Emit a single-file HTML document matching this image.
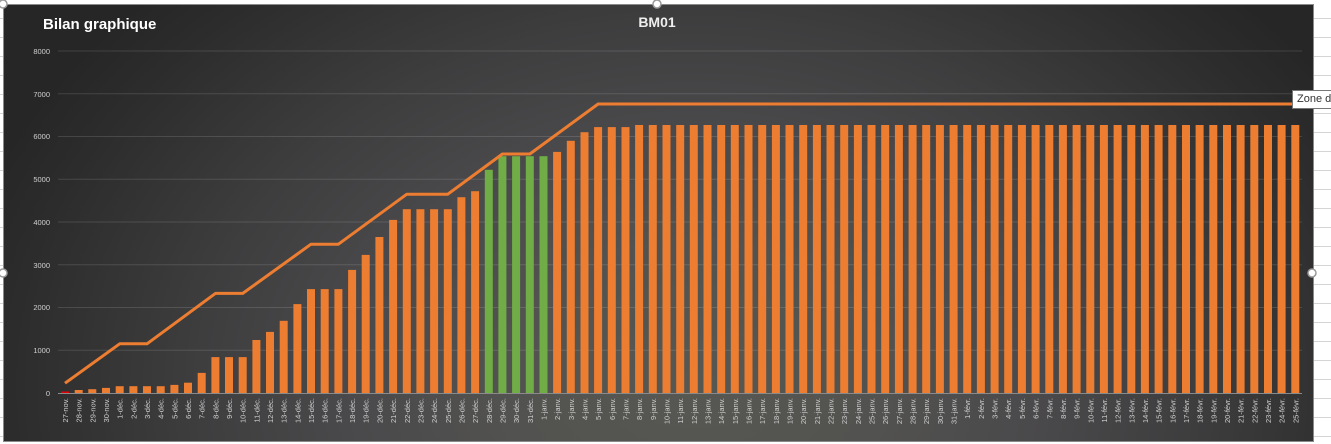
<!DOCTYPE html>
<html><head><meta charset="utf-8"><style>
body{margin:0;width:1331px;height:444px;overflow:hidden;background:#fff;position:relative;font-family:"Liberation Sans",sans-serif}
.grid{position:absolute;left:0;top:0;width:1331px;height:444px;background:repeating-linear-gradient(to bottom,#fff 0,#fff 18px,#d4d4d4 18px,#d4d4d4 19px)}
.chart{position:absolute;left:3px;top:4px;width:1309px;height:436px;border:1px solid #8a8a8a;background:radial-gradient(ellipse 760px 560px at 690px 380px,#575852 0%,#525250 25%,#4a494b 45%,#3e3e3f 65%,#2c2c2c 90%,#262626 100%)}
svg{position:absolute;left:0;top:0}
.l text{font-size:7.5px;fill:#cfcfcf}
.tip{position:absolute;left:1292px;top:90px;width:50px;height:17px;background:#fff;border:1px solid #777;font-size:11px;color:#333;padding-left:4px;line-height:17px}
</style></head><body>
<div class="grid"></div>
<div class="chart"></div>
<svg width="1331" height="444">
<text x="43" y="29" font-size="15" font-weight="bold" fill="#fff" font-family="Liberation Sans">Bilan graphique</text>
<text x="657" y="27" font-size="14" font-weight="bold" fill="#eee" text-anchor="middle" font-family="Liberation Sans">BM01</text>
<g stroke="#ffffff" stroke-opacity="0.13" stroke-width="1">
<line x1="58" x2="1302" y1="51" y2="51"/><line x1="58" x2="1302" y1="93.75" y2="93.75"/><line x1="58" x2="1302" y1="136.5" y2="136.5"/><line x1="58" x2="1302" y1="179.25" y2="179.25"/><line x1="58" x2="1302" y1="222" y2="222"/><line x1="58" x2="1302" y1="264.75" y2="264.75"/><line x1="58" x2="1302" y1="307.5" y2="307.5"/><line x1="58" x2="1302" y1="350.25" y2="350.25"/>
</g>
<g font-size="7.5" fill="#cfcfcf" text-anchor="end">
<text x="50" y="54">8000</text><text x="50" y="97">7000</text><text x="50" y="139">6000</text><text x="50" y="182">5000</text><text x="50" y="225">4000</text><text x="50" y="268">3000</text><text x="50" y="310">2000</text><text x="50" y="353">1000</text><text x="50" y="396">0</text>
</g>
<g fill="#ed7d31">
<rect x="61" y="391.5" width="8" height="1.5" fill="#e00000"/>
<rect x="74.7" y="390" width="8" height="3"/>
<rect x="88.3" y="389.2" width="8" height="3.8"/>
<rect x="102" y="387.9" width="8" height="5.1"/>
<rect x="115.7" y="386.2" width="8" height="6.8"/>
<rect x="129.4" y="386.2" width="8" height="6.8"/>
<rect x="143" y="386.2" width="8" height="6.8"/>
<rect x="156.7" y="386.2" width="8" height="6.8"/>
<rect x="170.4" y="384.9" width="8" height="8.1"/>
<rect x="184" y="382.7" width="8" height="10.3"/>
<rect x="197.7" y="372.9" width="8" height="20.1"/>
<rect x="211.4" y="357.1" width="8" height="35.9"/>
<rect x="225" y="357.1" width="8" height="35.9"/>
<rect x="238.7" y="357.1" width="8" height="35.9"/>
<rect x="252.4" y="340" width="8" height="53"/>
<rect x="266" y="331.9" width="8" height="61.1"/>
<rect x="279.7" y="320.8" width="8" height="72.2"/>
<rect x="293.4" y="304.1" width="8" height="88.9"/>
<rect x="307" y="289.1" width="8" height="103.9"/>
<rect x="320.7" y="289.1" width="8" height="103.9"/>
<rect x="334.4" y="289.1" width="8" height="103.9"/>
<rect x="348.1" y="269.9" width="8" height="123.1"/>
<rect x="361.7" y="254.9" width="8" height="138.1"/>
<rect x="375.4" y="237" width="8" height="156"/>
<rect x="389.1" y="219.9" width="8" height="173.1"/>
<rect x="402.8" y="209.2" width="8" height="183.8"/>
<rect x="416.4" y="209.2" width="8" height="183.8"/>
<rect x="430.1" y="209.2" width="8" height="183.8"/>
<rect x="443.8" y="209.2" width="8" height="183.8"/>
<rect x="457.4" y="197.2" width="8" height="195.8"/>
<rect x="471.1" y="191.2" width="8" height="201.8"/>
<rect x="484.8" y="169.8" width="8" height="223.2" fill="#70ad47"/>
<rect x="498.4" y="156.2" width="8" height="236.8" fill="#70ad47"/>
<rect x="512.1" y="156.2" width="8" height="236.8" fill="#70ad47"/>
<rect x="525.8" y="156.2" width="8" height="236.8" fill="#70ad47"/>
<rect x="539.5" y="156.2" width="8" height="236.8" fill="#70ad47"/>
<rect x="553.1" y="151.9" width="8" height="241.1"/>
<rect x="566.8" y="140.8" width="8" height="252.2"/>
<rect x="580.5" y="132.2" width="8" height="260.8"/>
<rect x="594.1" y="127.1" width="8" height="265.9"/>
<rect x="607.8" y="127.1" width="8" height="265.9"/>
<rect x="621.5" y="127.1" width="8" height="265.9"/>
<rect x="635.1" y="125" width="8" height="268"/><rect x="648.8" y="125" width="8" height="268"/><rect x="662.5" y="125" width="8" height="268"/><rect x="676.2" y="125" width="8" height="268"/><rect x="689.8" y="125" width="8" height="268"/><rect x="703.5" y="125" width="8" height="268"/><rect x="717.2" y="125" width="8" height="268"/><rect x="730.8" y="125" width="8" height="268"/><rect x="744.5" y="125" width="8" height="268"/><rect x="758.2" y="125" width="8" height="268"/><rect x="771.9" y="125" width="8" height="268"/><rect x="785.5" y="125" width="8" height="268"/><rect x="799.2" y="125" width="8" height="268"/><rect x="812.9" y="125" width="8" height="268"/><rect x="826.5" y="125" width="8" height="268"/><rect x="840.2" y="125" width="8" height="268"/><rect x="853.9" y="125" width="8" height="268"/><rect x="867.5" y="125" width="8" height="268"/><rect x="881.2" y="125" width="8" height="268"/><rect x="894.9" y="125" width="8" height="268"/><rect x="908.6" y="125" width="8" height="268"/><rect x="922.2" y="125" width="8" height="268"/><rect x="935.9" y="125" width="8" height="268"/><rect x="949.6" y="125" width="8" height="268"/><rect x="963.2" y="125" width="8" height="268"/><rect x="976.9" y="125" width="8" height="268"/><rect x="990.6" y="125" width="8" height="268"/><rect x="1004.2" y="125" width="8" height="268"/><rect x="1017.9" y="125" width="8" height="268"/><rect x="1031.6" y="125" width="8" height="268"/><rect x="1045.3" y="125" width="8" height="268"/><rect x="1058.9" y="125" width="8" height="268"/><rect x="1072.6" y="125" width="8" height="268"/><rect x="1086.3" y="125" width="8" height="268"/><rect x="1099.9" y="125" width="8" height="268"/><rect x="1113.6" y="125" width="8" height="268"/><rect x="1127.3" y="125" width="8" height="268"/><rect x="1140.9" y="125" width="8" height="268"/><rect x="1154.6" y="125" width="8" height="268"/><rect x="1168.3" y="125" width="8" height="268"/><rect x="1182" y="125" width="8" height="268"/><rect x="1195.6" y="125" width="8" height="268"/><rect x="1209.3" y="125" width="8" height="268"/><rect x="1223" y="125" width="8" height="268"/><rect x="1236.6" y="125" width="8" height="268"/><rect x="1250.3" y="125" width="8" height="268"/><rect x="1264" y="125" width="8" height="268"/><rect x="1277.6" y="125" width="8" height="268"/><rect x="1291.3" y="125" width="8" height="268"/>
</g>
<polyline fill="none" stroke="#ed7d31" stroke-width="3" stroke-linejoin="round" points="65,383.2 119.7,343.8 147,343.8 215.4,293.4 242.7,293.4 311,244.2 338.4,244.2 406.8,194.2 447.8,194.2 502.4,154 529.8,154 598.1,104 1295,104"/>
<line x1="58" x2="1302" y1="393.5" y2="393.5" stroke="#8a8a8a" stroke-width="1"/>
<g class="l">
<text transform="translate(68,398) rotate(-90)" text-anchor="end">27-nov.</text>
<text transform="translate(81.7,398) rotate(-90)" text-anchor="end">28-nov.</text>
<text transform="translate(95.3,398) rotate(-90)" text-anchor="end">29-nov.</text>
<text transform="translate(109,398) rotate(-90)" text-anchor="end">30-nov.</text>
<text transform="translate(122.7,398) rotate(-90)" text-anchor="end">1-déc.</text>
<text transform="translate(136.4,398) rotate(-90)" text-anchor="end">2-déc.</text>
<text transform="translate(150,398) rotate(-90)" text-anchor="end">3-déc.</text>
<text transform="translate(163.7,398) rotate(-90)" text-anchor="end">4-déc.</text>
<text transform="translate(177.4,398) rotate(-90)" text-anchor="end">5-déc.</text>
<text transform="translate(191,398) rotate(-90)" text-anchor="end">6-déc.</text>
<text transform="translate(204.7,398) rotate(-90)" text-anchor="end">7-déc.</text>
<text transform="translate(218.4,398) rotate(-90)" text-anchor="end">8-déc.</text>
<text transform="translate(232,398) rotate(-90)" text-anchor="end">9-déc.</text>
<text transform="translate(245.7,398) rotate(-90)" text-anchor="end">10-déc.</text>
<text transform="translate(259.4,398) rotate(-90)" text-anchor="end">11-déc.</text>
<text transform="translate(273,398) rotate(-90)" text-anchor="end">12-déc.</text>
<text transform="translate(286.7,398) rotate(-90)" text-anchor="end">13-déc.</text>
<text transform="translate(300.4,398) rotate(-90)" text-anchor="end">14-déc.</text>
<text transform="translate(314,398) rotate(-90)" text-anchor="end">15-déc.</text>
<text transform="translate(327.7,398) rotate(-90)" text-anchor="end">16-déc.</text>
<text transform="translate(341.4,398) rotate(-90)" text-anchor="end">17-déc.</text>
<text transform="translate(355.1,398) rotate(-90)" text-anchor="end">18-déc.</text>
<text transform="translate(368.7,398) rotate(-90)" text-anchor="end">19-déc.</text>
<text transform="translate(382.4,398) rotate(-90)" text-anchor="end">20-déc.</text>
<text transform="translate(396.1,398) rotate(-90)" text-anchor="end">21-déc.</text>
<text transform="translate(409.8,398) rotate(-90)" text-anchor="end">22-déc.</text>
<text transform="translate(423.4,398) rotate(-90)" text-anchor="end">23-déc.</text>
<text transform="translate(437.1,398) rotate(-90)" text-anchor="end">24-déc.</text>
<text transform="translate(450.8,398) rotate(-90)" text-anchor="end">25-déc.</text>
<text transform="translate(464.4,398) rotate(-90)" text-anchor="end">26-déc.</text>
<text transform="translate(478.1,398) rotate(-90)" text-anchor="end">27-déc.</text>
<text transform="translate(491.8,398) rotate(-90)" text-anchor="end">28-déc.</text>
<text transform="translate(505.4,398) rotate(-90)" text-anchor="end">29-déc.</text>
<text transform="translate(519.1,398) rotate(-90)" text-anchor="end">30-déc.</text>
<text transform="translate(532.8,398) rotate(-90)" text-anchor="end">31-déc.</text>
<text transform="translate(546.5,398) rotate(-90)" text-anchor="end">1-janv.</text>
<text transform="translate(560.1,398) rotate(-90)" text-anchor="end">2-janv.</text>
<text transform="translate(573.8,398) rotate(-90)" text-anchor="end">3-janv.</text>
<text transform="translate(587.5,398) rotate(-90)" text-anchor="end">4-janv.</text>
<text transform="translate(601.1,398) rotate(-90)" text-anchor="end">5-janv.</text>
<text transform="translate(614.8,398) rotate(-90)" text-anchor="end">6-janv.</text>
<text transform="translate(628.5,398) rotate(-90)" text-anchor="end">7-janv.</text>
<text transform="translate(642.1,398) rotate(-90)" text-anchor="end">8-janv.</text>
<text transform="translate(655.8,398) rotate(-90)" text-anchor="end">9-janv.</text>
<text transform="translate(669.5,398) rotate(-90)" text-anchor="end">10-janv.</text>
<text transform="translate(683.2,398) rotate(-90)" text-anchor="end">11-janv.</text>
<text transform="translate(696.8,398) rotate(-90)" text-anchor="end">12-janv.</text>
<text transform="translate(710.5,398) rotate(-90)" text-anchor="end">13-janv.</text>
<text transform="translate(724.2,398) rotate(-90)" text-anchor="end">14-janv.</text>
<text transform="translate(737.8,398) rotate(-90)" text-anchor="end">15-janv.</text>
<text transform="translate(751.5,398) rotate(-90)" text-anchor="end">16-janv.</text>
<text transform="translate(765.2,398) rotate(-90)" text-anchor="end">17-janv.</text>
<text transform="translate(778.9,398) rotate(-90)" text-anchor="end">18-janv.</text>
<text transform="translate(792.5,398) rotate(-90)" text-anchor="end">19-janv.</text>
<text transform="translate(806.2,398) rotate(-90)" text-anchor="end">20-janv.</text>
<text transform="translate(819.9,398) rotate(-90)" text-anchor="end">21-janv.</text>
<text transform="translate(833.5,398) rotate(-90)" text-anchor="end">22-janv.</text>
<text transform="translate(847.2,398) rotate(-90)" text-anchor="end">23-janv.</text>
<text transform="translate(860.9,398) rotate(-90)" text-anchor="end">24-janv.</text>
<text transform="translate(874.5,398) rotate(-90)" text-anchor="end">25-janv.</text>
<text transform="translate(888.2,398) rotate(-90)" text-anchor="end">26-janv.</text>
<text transform="translate(901.9,398) rotate(-90)" text-anchor="end">27-janv.</text>
<text transform="translate(915.6,398) rotate(-90)" text-anchor="end">28-janv.</text>
<text transform="translate(929.2,398) rotate(-90)" text-anchor="end">29-janv.</text>
<text transform="translate(942.9,398) rotate(-90)" text-anchor="end">30-janv.</text>
<text transform="translate(956.6,398) rotate(-90)" text-anchor="end">31-janv.</text>
<text transform="translate(970.2,398) rotate(-90)" text-anchor="end">1-févr.</text>
<text transform="translate(983.9,398) rotate(-90)" text-anchor="end">2-févr.</text>
<text transform="translate(997.6,398) rotate(-90)" text-anchor="end">3-févr.</text>
<text transform="translate(1011.2,398) rotate(-90)" text-anchor="end">4-févr.</text>
<text transform="translate(1024.9,398) rotate(-90)" text-anchor="end">5-févr.</text>
<text transform="translate(1038.6,398) rotate(-90)" text-anchor="end">6-févr.</text>
<text transform="translate(1052.3,398) rotate(-90)" text-anchor="end">7-févr.</text>
<text transform="translate(1065.9,398) rotate(-90)" text-anchor="end">8-févr.</text>
<text transform="translate(1079.6,398) rotate(-90)" text-anchor="end">9-févr.</text>
<text transform="translate(1093.3,398) rotate(-90)" text-anchor="end">10-févr.</text>
<text transform="translate(1106.9,398) rotate(-90)" text-anchor="end">11-févr.</text>
<text transform="translate(1120.6,398) rotate(-90)" text-anchor="end">12-févr.</text>
<text transform="translate(1134.3,398) rotate(-90)" text-anchor="end">13-févr.</text>
<text transform="translate(1147.9,398) rotate(-90)" text-anchor="end">14-févr.</text>
<text transform="translate(1161.6,398) rotate(-90)" text-anchor="end">15-févr.</text>
<text transform="translate(1175.3,398) rotate(-90)" text-anchor="end">16-févr.</text>
<text transform="translate(1189,398) rotate(-90)" text-anchor="end">17-févr.</text>
<text transform="translate(1202.6,398) rotate(-90)" text-anchor="end">18-févr.</text>
<text transform="translate(1216.3,398) rotate(-90)" text-anchor="end">19-févr.</text>
<text transform="translate(1230,398) rotate(-90)" text-anchor="end">20-févr.</text>
<text transform="translate(1243.6,398) rotate(-90)" text-anchor="end">21-févr.</text>
<text transform="translate(1257.3,398) rotate(-90)" text-anchor="end">22-févr.</text>
<text transform="translate(1271,398) rotate(-90)" text-anchor="end">23-févr.</text>
<text transform="translate(1284.6,398) rotate(-90)" text-anchor="end">24-févr.</text>
<text transform="translate(1298.3,398) rotate(-90)" text-anchor="end">25-févr.</text>
</g>
<g fill="#fff" stroke="#999" stroke-width="1.5">
<circle cx="3" cy="4" r="4"/><circle cx="657" cy="4" r="4"/><circle cx="3" cy="273" r="4"/><circle cx="1312" cy="273" r="4"/>
</g>
</svg>
<div class="tip">Zone d</div>
</body></html>
